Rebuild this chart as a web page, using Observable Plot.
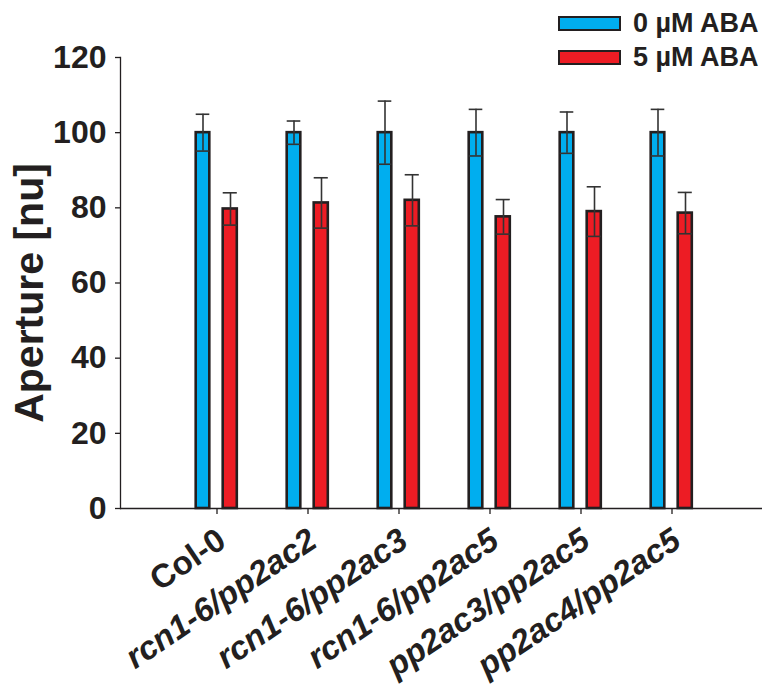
<!DOCTYPE html>
<html>
<head>
<meta charset="utf-8">
<script src="https://cdn.jsdelivr.net/npm/d3@7"></script>
<script src="https://cdn.jsdelivr.net/npm/@observablehq/plot@0.6"></script>
<style>
  body { margin: 0; background: white; }
  #wrap { position: relative; width: 766px; height: 690px; font-family: "Liberation Sans", Arial, sans-serif; color: #231F20; }
  #legend { position: absolute; left: 558px; top: 6px; }
  .item { display: flex; align-items: center; height: 34px; }
  .sw { width: 59px; height: 11px; border: 2.5px solid #231F20; box-sizing: content-box; margin-right: 12px; }
  .lab { font-weight: bold; font-size: 27px; line-height: 1; }
</style>
</head>
<body>
<div id="wrap">
  <div id="chart"></div>
  <div id="legend"></div>
</div>
<script>
const groups = ["Col-0", "rcn1-6/pp2ac2", "rcn1-6/pp2ac3", "rcn1-6/pp2ac5", "pp2ac3/pp2ac5", "pp2ac4/pp2ac5"];
const italicGroups = [false, true, true, true, true, true];
const conditions = ["0 µM ABA", "5 µM ABA"];
const colors = ["#00AEEF", "#ED1C24"];
const mean0 = [100, 100, 100, 100, 100, 100];
const se0 = [4.9, 3.1, 8.4, 6.2, 5.5, 6.2];
const mean5 = [79.7, 81.3, 82.0, 77.6, 79.0, 78.6];
const se5 = [4.3, 6.7, 6.8, 4.6, 6.6, 5.5];
const yTicks = [0, 20, 40, 60, 80, 100, 120];
const yLabel = "Aperture [nu]";

const data0 = groups.map((g, i) => ({group: g, mean: mean0[i], se: se0[i]}));
const data5 = groups.map((g, i) => ({group: g, mean: mean5[i], se: se5[i]}));

const ink = "#231F20";
const errInk = "#333333";
const blueInset = {insetLeft: 24.7, insetRight: 52.7};
const redInset = {insetLeft: 51.7, insetRight: 25.2};
const xLabelOpts = {frameAnchor: "bottom", rotate: -34, textAnchor: "end", lineAnchor: "bottom", dx: 11, dy: 37, fontSize: 33, fontWeight: "bold", fill: ink};

const chart = Plot.plot({
  width: 766,
  height: 690,
  marginLeft: 120,
  marginRight: 4,
  marginTop: 57,
  marginBottom: 182,
  style: {fontFamily: "'Liberation Sans', Arial, sans-serif", color: ink, background: "white", overflow: "visible"},
  x: {type: "band", domain: groups, paddingInner: 0, paddingOuter: 0.493, align: 0.536},
  y: {type: "linear", domain: [0, 120]},
  marks: [
    Plot.barY(data0, {x: "group", y: "mean", fill: colors[0], stroke: ink, strokeWidth: 2.6, ...blueInset}),
    Plot.barY(data5, {x: "group", y: "mean", fill: colors[1], stroke: ink, strokeWidth: 2.6, ...redInset}),
    Plot.ruleX(data0, {x: "group", y1: d => d.mean - d.se, y2: d => d.mean + d.se, dx: -14, stroke: errInk, strokeWidth: 1.6}),
    Plot.ruleX(data5, {x: "group", y1: d => d.mean - d.se, y2: d => d.mean + d.se, dx: 13.5, stroke: errInk, strokeWidth: 1.6}),
    Plot.tickY(data0, {x: "group", y: d => d.mean + d.se, stroke: errInk, strokeWidth: 1.6, ...blueInset}),
    Plot.tickY(data0, {x: "group", y: d => d.mean - d.se, stroke: errInk, strokeWidth: 1.6, ...blueInset}),
    Plot.tickY(data5, {x: "group", y: d => d.mean + d.se, stroke: errInk, strokeWidth: 1.6, ...redInset}),
    Plot.tickY(data5, {x: "group", y: d => d.mean - d.se, stroke: errInk, strokeWidth: 1.6, ...redInset}),
    Plot.frame({anchor: "left", stroke: ink, strokeWidth: 1.3}),
    Plot.ruleY([0], {stroke: ink, strokeWidth: 1.3}),
    Plot.axisY({ticks: yTicks, tickSize: 5, tickPadding: 9, fontSize: 32, fontWeight: "bold", label: null, stroke: ink, strokeWidth: 1.3}),
    Plot.axisX({tickSize: 6, tickFormat: () => "", label: null, stroke: ink, strokeWidth: 1.3}),
    Plot.text(groups.filter((g, i) => !italicGroups[i]), {x: d => d, ...xLabelOpts}),
    Plot.text(groups.filter((g, i) => italicGroups[i]), {x: d => d, ...xLabelOpts, fontStyle: "italic"}),
    Plot.text([yLabel], {frameAnchor: "left", rotate: -90, textAnchor: "middle", lineAnchor: "bottom", dx: -78, dy: 10, fontSize: 41, fontWeight: "bold", fill: ink})
  ]
});
document.getElementById("chart").appendChild(chart);

const legend = document.getElementById("legend");
conditions.forEach((c, i) => {
  const row = document.createElement("div");
  row.className = "item";
  const sw = document.createElement("div");
  sw.className = "sw";
  sw.style.background = colors[i];
  const lab = document.createElement("span");
  lab.className = "lab";
  lab.textContent = c;
  row.appendChild(sw);
  row.appendChild(lab);
  legend.appendChild(row);
});
</script>
</body>
</html>
